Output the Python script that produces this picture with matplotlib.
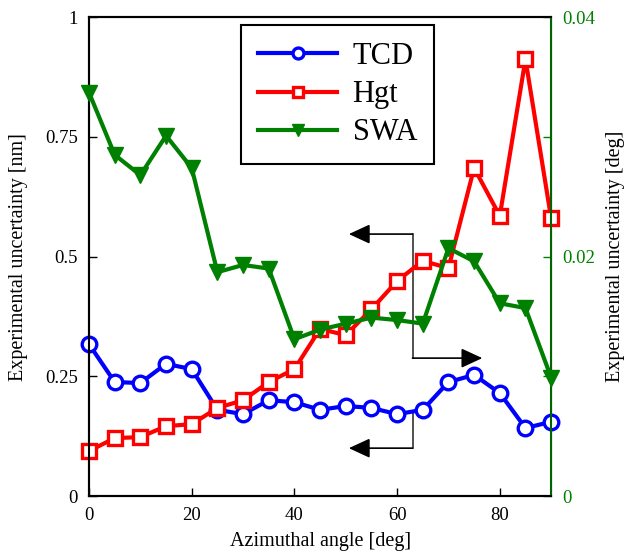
import numpy as np
import matplotlib
matplotlib.use("Agg")
import matplotlib.pyplot as plt

plt.rcParams['font.family'] = ['Liberation Serif', 'DejaVu Serif']
plt.rcParams['mathtext.fontset'] = 'stix'

angle = [0, 5, 10, 15, 20, 25, 30, 35, 40, 45, 50, 55, 60, 65, 70, 75, 80, 85, 90]
tcd = [0.317, 0.238, 0.236, 0.276, 0.265, 0.180, 0.171, 0.200, 0.196, 0.180,
       0.188, 0.184, 0.171, 0.180, 0.238, 0.253, 0.215, 0.142, 0.155]
hgt = [0.094, 0.121, 0.123, 0.146, 0.150, 0.184, 0.200, 0.238, 0.265, 0.349,
       0.336, 0.390, 0.449, 0.491, 0.476, 0.685, 0.585, 0.912, 0.580]
swa = [0.0337, 0.0285, 0.0268, 0.0301, 0.0274, 0.0187, 0.0193, 0.0190, 0.0131, 0.0139,
       0.0144, 0.0149, 0.0147, 0.0144, 0.0207, 0.0196, 0.0161, 0.0157, 0.0099]

green = '#008000'
fig = plt.figure(figsize=(6.27, 5.53), dpi=100)
ax = fig.add_axes([0.142, 0.103, 0.737, 0.866])
ax2 = ax.twinx()

# guide arrows (drawn under the data)
ac = '#333333'
ax.plot([63, 63], [0.547, 0.288], color=ac, lw=1.2, zorder=1)
ax.plot([63, 63], [0.173, 0.100], color=ac, lw=1.2, zorder=1)
aprops = dict(arrowstyle='-|>,head_length=1.3,head_width=0.6', color=ac, lw=1.2,
              fc='black', ec='black', shrinkA=0, shrinkB=0)
ax.annotate('', xy=(50.6, 0.547), xytext=(63, 0.547), arrowprops=aprops, zorder=1)
ax.annotate('', xy=(76.6, 0.288), xytext=(63, 0.288), arrowprops=aprops, zorder=1)
ax.annotate('', xy=(50.6, 0.100), xytext=(63, 0.100), arrowprops=aprops, zorder=1)

l1, = ax.plot(angle, tcd, color='blue', lw=3, marker='o', ms=10.5, mfc='white',
              mec='blue', mew=2.4, label='TCD', zorder=3, clip_on=False)
l2, = ax.plot(angle, hgt, color='red', lw=3, marker='s', ms=10.5, mfc='white',
              mec='red', mew=2.4, label='Hgt', zorder=3, clip_on=False)
l3, = ax2.plot(angle, swa, color=green, lw=3, marker='v', ms=12, mfc=green,
               mec=green, label='SWA', zorder=3, clip_on=False)

ax.set_xlim(0, 90)
ax.set_ylim(0, 1)
ax2.set_ylim(0, 0.04)
ax.set_xticks([0, 20, 40, 60, 80])
ax.set_yticks([0, 0.25, 0.5, 0.75, 1])
ax.set_yticklabels(['0', '0.25', '0.5', '0.75', '1'])
ax2.set_yticks([0, 0.01, 0.02, 0.03, 0.04])
ax2.set_yticklabels(['0', '', '0.02', '', '0.04'])

ax.tick_params(direction='in', labelsize=13.5, length=6, width=1, pad=8)
ax2.tick_params(direction='in', labelsize=13.5, length=6, width=1, pad=8,
                colors=green)
ax2.spines['right'].set_color('#006400')
ax2.spines['right'].set_linewidth(1.5)
for s in ['left', 'bottom', 'top']:
    ax.spines[s].set_linewidth(1.5)
    ax2.spines[s].set_linewidth(1.5)

ax.set_xlabel('Azimuthal angle [deg]', fontsize=14.5, labelpad=6)
ax.set_ylabel('Experimental uncertainty [nm]', fontsize=14.5, labelpad=12)
ax2.set_ylabel('Experimental uncertainty [deg]', fontsize=14.5, labelpad=8)

leg = ax2.legend(handles=[l1, l2, l3], loc='upper left',
                 bbox_to_anchor=(0.329, 0.983), borderaxespad=0, fontsize=22,
                 frameon=True, fancybox=False, edgecolor='black', framealpha=1,
                 handlelength=2.6, handletextpad=0.5, borderpad=0.55,
                 labelspacing=0.3, markerscale=0.75)
leg.get_frame().set_linewidth(1.5)

fig.savefig('out.png', dpi=100)
